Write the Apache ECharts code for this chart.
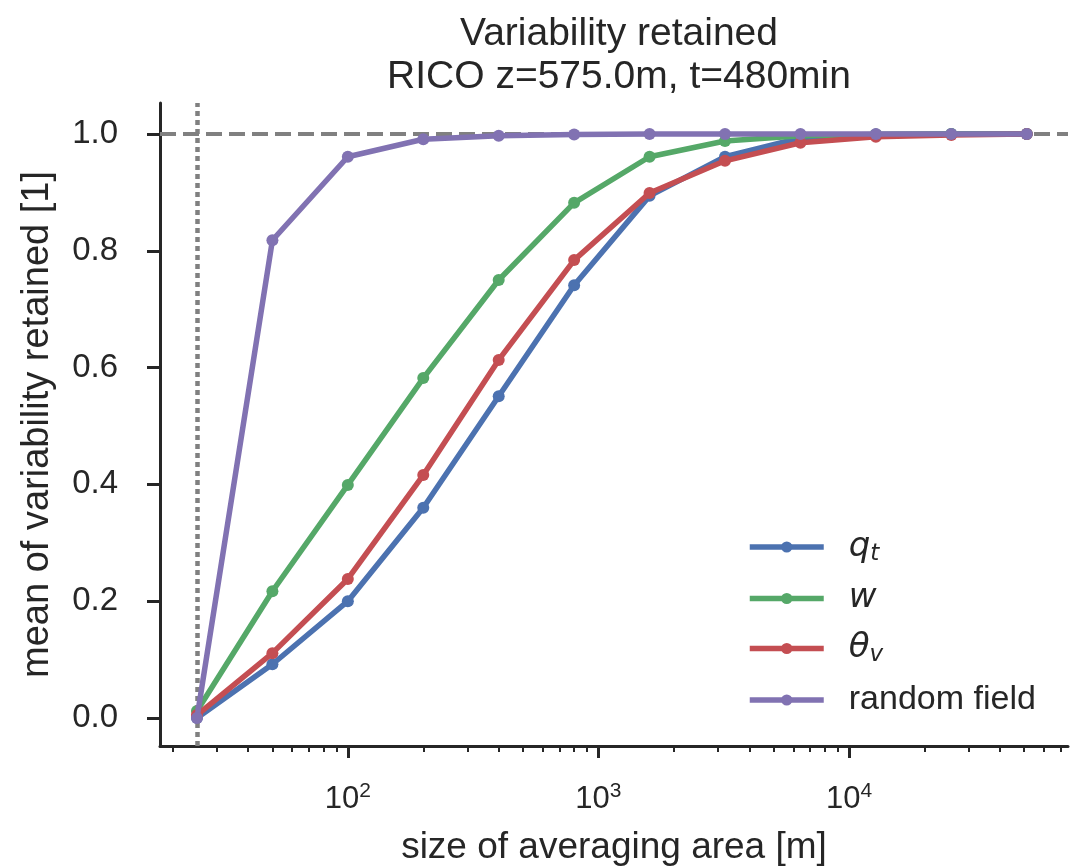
<!DOCTYPE html>
<html>
<head>
<meta charset="utf-8">
<title>Variability retained</title>
<script src="https://cdn.jsdelivr.net/npm/echarts@6/dist/echarts.min.js"></script>
<style>
  html, body { margin: 0; padding: 0; background: #fff; }
  #main { width: 1070px; height: 868px; }
</style>
</head>
<body>
<div id="main"></div>
<script>
// sizes of the averaging area [m]
var sizes = [25, 50, 100, 200, 400, 800, 1600, 3200, 6400, 12800, 25600, 51200];
var qt    = [0.0, 0.092, 0.200, 0.360, 0.551, 0.741, 0.894, 0.961, 0.993, 0.999, 1.0, 1.0];
var w     = [0.012, 0.217, 0.399, 0.582, 0.750, 0.882, 0.961, 0.988, 0.997, 0.999, 1.0, 1.0];
var thv   = [0.005, 0.111, 0.238, 0.416, 0.613, 0.784, 0.899, 0.954, 0.985, 0.995, 0.998, 1.0];
var rnd   = [0.0, 0.818, 0.961, 0.991, 0.997, 0.999, 1.0, 1.0, 1.0, 1.0, 1.0, 1.0];
var seriesNames = ['q_t', 'w', 'theta_v', 'random field'];
var colors = ['#4C72B0', '#55A868', '#C44E52', '#8172B2'];
var yTicks = [0, 0.2, 0.4, 0.6, 0.8, 1.0];
var xMajorTicks = [100, 1000, 10000];
var xMinorTicks = [20, 30, 40, 50, 60, 70, 80, 90, 200, 300, 400, 500, 600, 700, 800, 900,
                   2000, 3000, 4000, 5000, 6000, 7000, 8000, 9000, 20000, 30000, 40000, 50000, 60000, 70000];
var refY = 1.0;   // dashed horizontal line
var refX = 25;    // dotted vertical line

function pairs(ys) {
    return sizes.map(function (s, i) { return [s, ys[i]]; });
}

var legendRich = {
    'q_t': '{it|q}{sub|t}',
    'w': '{it|w}',
    'theta_v': '{it|θ}{sub|v}',
    'random field': '{rm|random field}'
};

var ink = '#262626';
var xMin = 17.8, xMax = 74800;

function mkSeries(name, ys, idx) {
    return {
        name: name,
        type: 'line',
        data: pairs(ys),
        symbol: 'circle',
        symbolSize: 12,
        lineStyle: { width: 5.5, color: colors[idx] },
        itemStyle: { color: colors[idx] },
        z: 2 + idx,
        animation: false
    };
}

var myChart = echarts.init(document.getElementById('main'));

var option = {
    animation: false,
    title: {
        text: 'Variability retained\nRICO z=575.0m, t=480min',
        left: 614,
        top: 8,
        textAlign: 'center',
        textStyle: {
            fontFamily: 'Liberation Sans Narrow, Liberation Sans, sans-serif',
            fontWeight: 'normal',
            fontSize: 39,
            lineHeight: 43,
            color: ink
        }
    },
    legend: {
        orient: 'vertical',
        left: 742,
        top: 525,
        itemWidth: 74,
        itemHeight: 14,
        itemGap: 16,
        data: seriesNames,
        lineStyle: { width: 5.5 },
        formatter: function (n) { return legendRich[n]; },
        textStyle: {
            color: ink,
            fontSize: 34,
            rich: {
                it: { fontStyle: 'italic', fontSize: 34, fontFamily: 'DejaVu Sans', color: ink, padding: [0, 0, 0, 20], height: 36 },
                sub: { fontStyle: 'italic', fontSize: 23, fontFamily: 'DejaVu Sans', color: ink, verticalAlign: 'bottom', padding: [14, 0, 0, 0] },
                rm: { fontSize: 34, fontFamily: 'Liberation Sans', color: ink, padding: [0, 0, 0, 20], height: 36 }
            }
        }
    },
    grid: { left: 160, right: 2, top: 103, bottom: 122, containLabel: false, outerBoundsMode: 'none' },
    xAxis: [{
        type: 'log',
        logBase: 10,
        min: xMin,
        max: xMax,
        name: 'size of averaging area [m]',
        nameLocation: 'middle',
        nameGap: 102,
        nameTextStyle: { fontSize: 37, color: ink, fontFamily: 'Liberation Sans', verticalAlign: 'middle' },
        axisLine: { show: true, onZero: false, lineStyle: { color: ink, width: 3 } },
        axisTick: { show: true, length: 12, customValues: xMajorTicks, lineStyle: { color: ink, width: 3 } },
        axisLabel: {
            show: true,
            customValues: xMajorTicks,
            margin: 35,
            formatter: function (v) {
                var e = Math.round(Math.log10(v));
                return '{b|10}{e|' + e + '}';
            },
            rich: {
                b: { fontSize: 31, fontFamily: 'Liberation Sans', color: ink },
                e: { fontSize: 21, fontFamily: 'Liberation Sans', color: ink, verticalAlign: 'top', padding: [0, 0, 16, 0] }
            }
        },
        splitLine: { show: false }
    }, {
        type: 'log',
        logBase: 10,
        min: xMin,
        max: xMax,
        position: 'bottom',
        axisLine: { show: false, onZero: false },
        axisTick: { show: true, length: 6, customValues: xMinorTicks, lineStyle: { color: ink, width: 2 } },
        axisLabel: { show: false },
        splitLine: { show: false }
    }],
    yAxis: {
        type: 'value',
        min: -0.048,
        max: 1.053,
        name: 'mean of variability retained [1]',
        nameLocation: 'middle',
        nameGap: 103,
        nameTextStyle: { fontSize: 38, color: ink, fontFamily: 'Liberation Sans' },
        axisLine: { show: true, onZero: false, lineStyle: { color: ink, width: 3 } },
        axisTick: { show: true, length: 13, customValues: yTicks, lineStyle: { color: ink, width: 3 } },
        axisLabel: {
            customValues: yTicks,
            margin: 42,
            fontSize: 33,
            fontFamily: 'Liberation Sans',
            color: ink,
            align: 'right',
            formatter: function (v) { return v.toFixed(1); }
        },
        splitLine: { show: false }
    },
    series: [
        mkSeries('q_t', qt, 0),
        mkSeries('w', w, 1),
        mkSeries('theta_v', thv, 2),
        mkSeries('random field', rnd, 3),
        {
            name: 'ref',
            type: 'line',
            data: [],
            z: 10,
            markLine: {
                silent: true,
                symbol: 'none',
                label: { show: false },
                animation: false,
                data: [
                    { yAxis: refY, lineStyle: { type: [16, 7], color: '#808080', width: 4 } },
                    { xAxis: refX, lineStyle: { type: [5, 4], color: '#808080', width: 4.5 } }
                ]
            }
        }
    ]
};

myChart.setOption(option);
</script>
</body>
</html>
